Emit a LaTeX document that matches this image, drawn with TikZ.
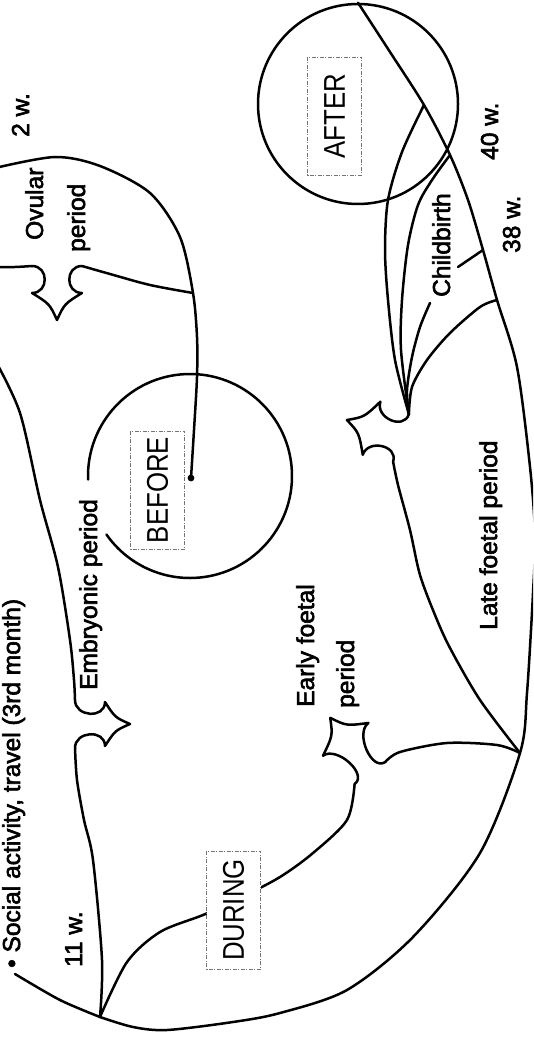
\documentclass[tikz,border=0pt]{standalone}
\usepackage{graphicx}
\usepackage{fontspec}
\setmainfont{Liberation Sans}
\newfontfamily\lblfam[FakeBold=2.5]{Liberation Sans}
\newfontfamily\boxfam{Liberation Sans}
% brace: name, x, y, angle, s, s2, d, t
\newcommand{\brc}[8]{%
 \begin{scope}[shift={(#2,#3)},rotate=#4]
  \coordinate (#1-a) at (0,#5);
  \coordinate (#1-b) at (0,-#5);
  \draw[ln] (#1-a) .. controls (0,{#5-17}) and (#7,{#6-17}) .. (#7,#6)
     .. controls ({#7+0.4*(#8-#7)},{0.3*#6}) .. (#8,0)
     .. controls ({#7+0.4*(#8-#7)},{-0.3*#6}) .. (#7,-#6)
     .. controls (#7,{-#6+17}) and (0,{-#5+17}) .. (#1-b);
 \end{scope}}
\begin{document}
\begin{tikzpicture}[x=1pt,y=-1pt,
  ln/.style={line width=2.5pt,line cap=round,line join=round},
  lbl/.style={rotate=90,anchor=base west,inner sep=0pt,font=\lblfam\fontsize{24.5}{28}\selectfont},
  boxl/.style={rotate=90,draw=black!55,line width=0.8pt,dash pattern=on 4pt off 1.5pt on 1pt off 1.5pt,fill=white,minimum width=118pt,minimum height=54pt,inner sep=0pt,font=\boxfam\fontsize{30}{32}\selectfont}]
\useasboundingbox (0,0) rectangle (533,1040);
\clip (0,0) rectangle (533,1040);

\coordinate (jov) at (193,293);
\coordinate (dot) at (191,478);
\coordinate (bc) at (190,476);
\coordinate (rA) at (424,105);
\coordinate (rB) at (450,155);
\coordinate (rtick) at (483,250);
\coordinate (r38) at (497,300);
\coordinate (j) at (520,753);
\coordinate (pbl) at (100,1017);
\coordinate (cbt) at (458,267);
\coordinate (cbl) at (430,303);

% AFTER circle
\node[draw,ln,circle,minimum size=200pt,inner sep=0pt] (aftc) at (358,104) {};

% outer right/bottom boundary
\draw[ln] plot[smooth] coordinates {(aftc.north) (390,52) (rA) (rB) (468,200) (rtick) (r38) (517,367) (530,467) (535,535) (533,593) (527,693) (j) (480,853) (413,937) (347,990) (280,1013) (233,1022) (167,1030) (133,1027) (pbl)};
\draw[ln] plot[smooth] coordinates {(15,974) (60,1000) (pbl)};

% braces
\brc{ov}{57}{266}{-90}{25}{25}{27}{54}
\brc{emb}{75}{724}{0}{24}{22}{30}{55}
\brc{lf}{401}{438}{161.6}{25}{28}{31}{57}
\brc{ef}{370}{773}{125.8}{19}{28}{41.5}{68}

% ovular arms and C1
\draw[ln] plot[smooth] coordinates {(-5,267) (15,267) (ov-a)};
\draw[ln] plot[smooth] coordinates {(ov-b) (110,274) (150,285) (jov)};
\draw[ln] plot[smooth] coordinates {(-5,168) (55,157) (100,166) (150,193) (180,237) (jov) (197,337) (197,377) (194,430) (dot)};
\fill (dot) circle[radius=3.4pt];

% embryonic arms
\draw[ln] plot[smooth] coordinates {(-5,360) (20,413) (40,500) (58,567) (70,640) (74,680) (emb-b)};
\draw[ln] plot[smooth] coordinates {(emb-a) (77,780) (84,820) (93,860) (102,960) (pbl)};

% fan to late foetal brace
\draw[ln] plot[smooth] coordinates {(rA) (402,152) (388,200) (385,250) (388,300) (395,360) (lf-a)};
\draw[ln] plot[smooth] coordinates {(rB) (432,180) (418,205) (408,245) (402,300) (401,350) (lf-a)};
\draw[ln] plot[smooth] coordinates {(cbl) (420,327) (412,357) (407,390) (lf-a)};
\draw[ln] plot[smooth] coordinates {(r38) (480,307) (450,333) (427,360) (412,387) (lf-a)};
\draw[ln] (cbt) -- (rtick);
\draw[ln] plot[smooth] coordinates {(lf-b) (398,485) (410,530) (420,575) (435,615) (450,648) (480,700) (j)};

% early foetal arms
\draw[ln] plot[smooth] coordinates {(ef-a) (400,752) (447,743) (497,745) (j)};
\draw[ln] plot[smooth] coordinates {(ef-b) (347,820) (313,853) (280,877) (240,898) (203,915) (160,932) (127,962) (pbl)};

% BEFORE circle with gap
\draw[ln] (bc) ++(178:102) arc[start angle=178,end angle=505,radius=102];

% boxes
\node[boxl] (before) at (157.5,490) {\scalebox{0.86}[1]{BEFORE}};
\node[boxl] (after) at (334.5,116) {\scalebox{0.86}[1]{AFTER}};
\node[boxl] (during) at (233.5,910) {\scalebox{0.86}[1]{DURING}};

% labels
\node[lbl] (t2w) at (29,137) {2 w.};
\node[lbl] (tov1) at (43,240) {Ovular};
\node[lbl] (tov2) at (85,252) {period};
\node[lbl] (temb) at (97,690) {Embryonic period};
\node[lbl] (tef1) at (314,707) {Early foetal};
\node[lbl] (tef2) at (354,708) {period};
\node[lbl] (tlf) at (497,630) {Late foetal period};
\node[lbl] (tcb) at (450,297) {Childbirth};
\node[lbl] (t40) at (498,160) {40 w.};
\node[lbl] (t38) at (520,253) {38 w.};
\node[lbl] (t11) at (82,967) {11 w.};
\node[lbl] (tsoc) at (20,968) {• Social activity, travel (3rd month)};
\end{tikzpicture}
\end{document}
